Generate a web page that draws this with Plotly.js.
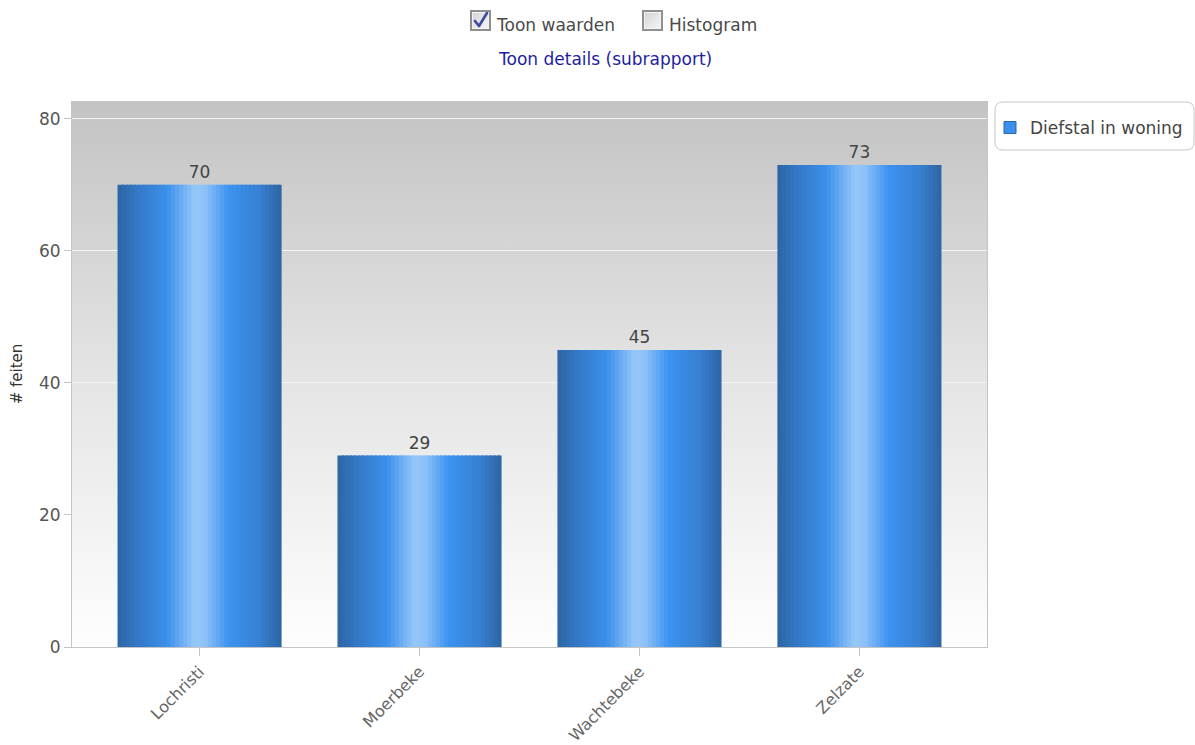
<!DOCTYPE html>
<html>
<head>
<meta charset="utf-8">
<script src="https://cdn.plot.ly/plotly-3.0.1.min.js"></script>
<style>
  html, body { margin: 0; padding: 0; background: #fff; }
  #wrap { position: relative; width: 1195px; height: 745px; overflow: hidden; font-family: "DejaVu Sans", Verdana, sans-serif; }
  #chart { position: absolute; left: 0; top: 0; width: 1195px; height: 745px; }
  .ctl { position: absolute; font-size: 17px; line-height: 20px; color: #4a4a4a; white-space: nowrap; }
  .box { position: absolute; width: 21px; height: 21px; border: 2px solid #8f8f8f; background: linear-gradient(135deg, #d4d4d4, #f6f6f6); box-sizing: border-box; box-shadow: inset 0 0 0 1px #f2f2f2; }
  .box svg { position: absolute; left: 1px; top: 0px; }
  .link { position: absolute; font-size: 17px; line-height: 20px; color: #1e1ea2; white-space: nowrap; }
</style>
</head>
<body>
<div id="wrap">
  <div id="chart"></div>
  <div class="box" style="left:470px; top:10px;"><svg width="16" height="17" viewBox="0 0 16 17"><path d="M2 9 L6 14 L14 1" stroke="#3a4c9e" stroke-width="2.6" fill="none" stroke-linecap="round" stroke-linejoin="round"/></svg></div>
  <div class="ctl" style="left:497px; top:15px;">Toon waarden</div>
  <div class="box" style="left:642px; top:10px;"></div>
  <div class="ctl" style="left:669px; top:15px;">Histogram</div>
  <div class="link" style="left:499px; top:49px;">Toon details (subrapport)</div>
</div>
<script>
// ---- data ----
const categories = ["Lochristi", "Moerbeke", "Wachtebeke", "Zelzate"];
const values = [70, 29, 45, 73];
const seriesName = "Diefstal in woning";
const yAxisTitle = "# feiten";
const yTicks = [0, 20, 40, 60, 80];

// ---- styling ----
const FONT = "DejaVu Sans, Verdana, sans-serif";
const barWidth = 0.746;
const nStrips = 40;
const stops = [
  [0.00, [45, 101, 163]],
  [0.12, [52, 120, 198]],
  [0.30, [58, 144, 234]],
  [0.47, [150, 199, 248]],
  [0.53, [143, 194, 248]],
  [0.68, [59, 147, 240]],
  [0.86, [56, 128, 212]],
  [1.00, [45, 101, 163]]
];
function gradColor(t) {
  for (let i = 0; i < stops.length - 1; i++) {
    const [t0, c0] = stops[i], [t1, c1] = stops[i + 1];
    if (t >= t0 && t <= t1) {
      const f = (t - t0) / (t1 - t0);
      const c = c0.map((v, k) => Math.round(v + (c1[k] - v) * f));
      return `rgb(${c[0]},${c[1]},${c[2]})`;
    }
  }
  return "rgb(45,101,163)";
}

const traces = [];
const step = barWidth / nStrips;
for (let i = 0; i < nStrips; i++) {
  const left = -barWidth / 2 + i * step;
  const w = Math.min(step * 1.6, barWidth / 2 - left);
  const t = (i + 0.5) / nStrips;
  traces.push({
    type: "bar",
    x: categories,
    y: values,
    width: categories.map(() => w),
    offset: categories.map(() => left),
    marker: { color: gradColor(t), line: { width: 0 } },
    name: seriesName,
    legendgroup: "g",
    showlegend: false,
    hoverinfo: "skip"
  });
}
// value labels (transparent full-width bar)
traces.push({
  type: "bar",
  x: categories,
  y: values,
  width: categories.map(() => barWidth),
  marker: { color: "rgba(0,0,0,0)", line: { width: 0 } },
  text: values.map(String),
  textposition: "outside",
  textfont: { family: FONT, size: 17, color: "#444" },
  cliponaxis: false,
  name: seriesName,
  legendgroup: "g",
  showlegend: false,
  hoverinfo: "x+y"
});
// legend entry
traces.push({
  type: "bar",
  x: [categories[0]],
  y: [null],
  marker: { color: "rgb(58,144,234)", line: { width: 1, color: "rgb(45,101,163)" } },
  name: seriesName,
  legendgroup: "g",
  showlegend: true
});

const svgBg = '<svg xmlns="http://www.w3.org/2000/svg" width="10" height="100" viewBox="0 0 10 100" preserveAspectRatio="none">' +
  '<defs><linearGradient id="g" x1="0" y1="0" x2="0" y2="1">' +
  '<stop offset="0" stop-color="#c3c3c3"/><stop offset="0.5" stop-color="#e4e4e4"/><stop offset="1" stop-color="#fefefe"/>' +
  '</linearGradient></defs><rect width="10" height="100" fill="url(#g)"/></svg>';

const L = 72, R = 208, T = 101, B = 98;
const pw = 1195 - L - R, ph = 745 - T - B;
const px = x => (x - L) / pw;
const py = y => (745 - B - y) / ph;
const rx = 8 / pw, ry = 8 / ph;
const lx0 = px(995), lx1 = px(1194), ly0 = py(150), ly1 = py(102);
const legendPath = `M ${lx0 + rx} ${ly1} L ${lx1 - rx} ${ly1} Q ${lx1} ${ly1} ${lx1} ${ly1 - ry} ` +
  `L ${lx1} ${ly0 + ry} Q ${lx1} ${ly0} ${lx1 - rx} ${ly0} L ${lx0 + rx} ${ly0} Q ${lx0} ${ly0} ${lx0} ${ly0 + ry} ` +
  `L ${lx0} ${ly1 - ry} Q ${lx0} ${ly1} ${lx0 + rx} ${ly1} Z`;

const layout = {
  width: 1195,
  height: 745,
  margin: { l: L, r: R, t: T, b: B, pad: 0, autoexpand: false },
  paper_bgcolor: "#ffffff",
  plot_bgcolor: "rgba(0,0,0,0)",
  barmode: "overlay",
  font: { family: FONT, size: 17, color: "#444" },
  showlegend: true,
  legend: {
    x: px(990), xanchor: "left",
    y: py(110), yanchor: "top",
    bgcolor: "rgba(0,0,0,0)", borderwidth: 0,
    itemwidth: 30,
    font: { family: FONT, size: 17, color: "#444" }
  },
  xaxis: {
    type: "category",
    range: [-0.58, 3.58],
    showgrid: false,
    showline: true, linecolor: "#c4c4c4", linewidth: 1,
    ticks: "outside", ticklen: 8, tickcolor: "#c4c4c4",
    tickangle: -45,
    tickfont: { family: FONT, size: 16, color: "#666" },
    automargin: false,
    fixedrange: true
  },
  yaxis: {
    range: [0, 82.7],
    tickvals: yTicks,
    showgrid: true, gridcolor: "#f4f4f4", gridwidth: 1,
    zeroline: false,
    showline: true, linecolor: "#c4c4c4", linewidth: 1, mirror: true,
    ticks: "outside", ticklen: 7, tickcolor: "#c4c4c4",
    tickfont: { family: FONT, size: 17, color: "#555" },
    title: { text: yAxisTitle, font: { family: FONT, size: 15, color: "#333" }, standoff: 12 },
    automargin: false,
    fixedrange: true
  },
  images: [{
    source: "data:image/svg+xml;charset=utf-8," + encodeURIComponent(svgBg),
    xref: "paper", yref: "paper", x: 0, y: 1, sizex: 1, sizey: 1,
    xanchor: "left", yanchor: "top", sizing: "stretch", layer: "below"
  }],
  shapes: [{
    type: "path", xref: "paper", yref: "paper", path: legendPath,
    line: { color: "#c8c8c8", width: 1 }, fillcolor: "#ffffff", layer: "below"
  }]
};

Plotly.newPlot("chart", traces, layout, { displayModeBar: false });
</script>
</body>
</html>
